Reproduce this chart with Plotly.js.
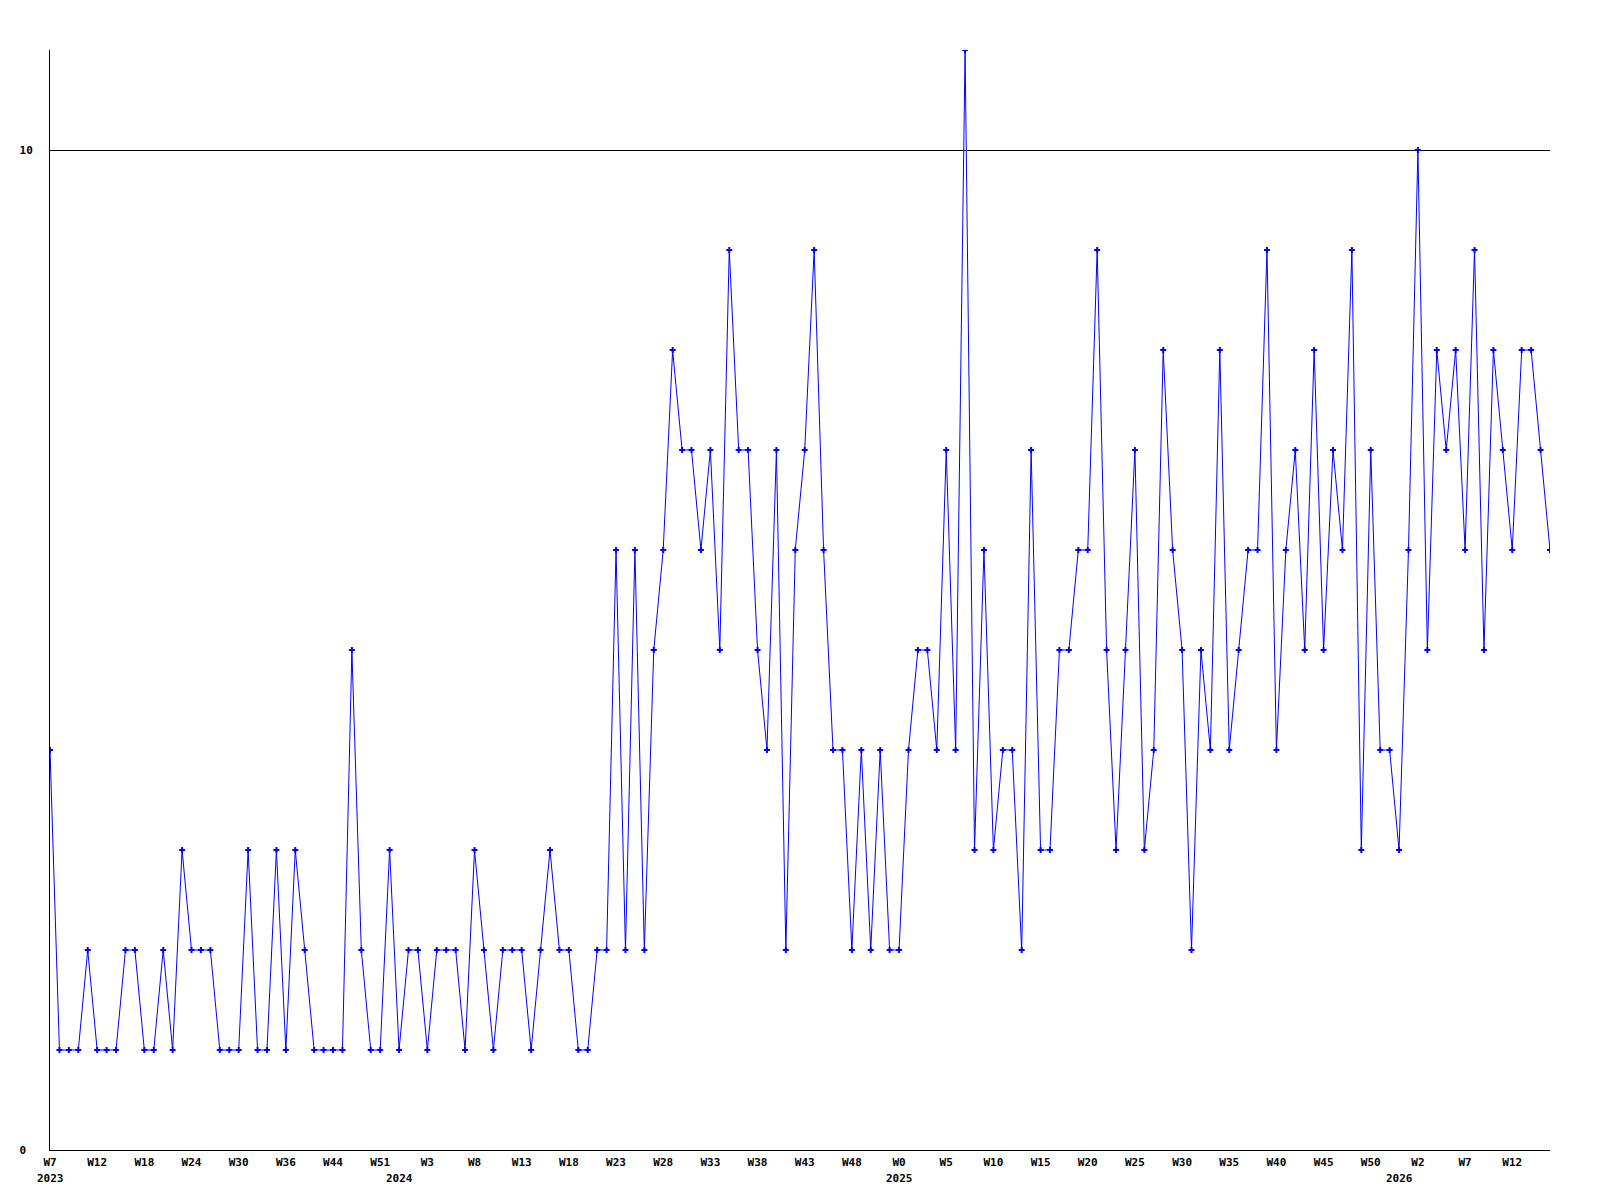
<!DOCTYPE html>
<html>
<head>
<meta charset="utf-8">
<script src="https://cdn.plot.ly/plotly-3.0.1.min.js"></script>
<style>html,body{margin:0;padding:0;background:#fff;}#chart{width:1600px;height:1200px;}</style>
</head>
<body>
<div id="chart"></div>
<script>
// Weekly counts, one per week, starting at W7 2023
const values = [
  4,1,1,1,2,1,1,1,2,2, 1,1,2,1,3,2,2,2,1,1,
  1,3,1,1,3,1,3,2,1,1, 1,1,5,2,1,1,3,1,2,2,
  1,2,2,2,1,3,2,1,2,2, 2,1,2,3,2,2,1,1,2,2,
  6,2,6,2,5,6,8,7,7,6, 7,5,9,7,7,5,4,7,2,6,
  7,9,6,4,4,2,4,2,4,2, 2,4,5,5,4,7,4,11,3,6,
  3,4,4,2,7,3,3,5,5,6, 6,9,5,3,5,7,3,4,8,6,
  5,2,5,4,8,4,5,6,6,9, 4,6,7,5,8,5,7,6,9,3,
  7,4,4,3,6,10,5,8,7,8, 6,9,5,8,7,6,8,8,7,6
];
// Week tick labels (every 5th week)
const weekTicks = ['W7','W12','W18','W24','W30','W36','W44','W51','W3','W8','W13','W18',
  'W23','W28','W33','W38','W43','W48','W0','W5','W10','W15','W20','W25','W30','W35',
  'W40','W45','W50','W2','W7','W12'];
const weekTickStep = 5;
// Year labels and the week index they sit under
const years = ['2023','2024','2025','2026'];
const yearIndex = [0,37,90,143];
// Y axis ticks
const yTickVals = [0,10];
const yTickText = ['0\u00a0','10'];

const xIdx = values.map((_, i) => i);
const tickVals = weekTicks.map((_, i) => i * weekTickStep);

const FONT = {family: 'DejaVu Sans Mono, monospace', size: 11, color: '#000', weight: 'bold'};

const trace = {
  x: xIdx, y: values, type: 'scatter', mode: 'lines+markers',
  line: {color: '#0000ff', width: 1},
  marker: {color: '#0000ff', symbol: 'cross', size: 5},
  hoverinfo: 'x+y'
};

const layout = {
  width: 1600, height: 1200,
  margin: {l: 50, r: 50, t: 50, b: 50, pad: 0},
  paper_bgcolor: '#fff', plot_bgcolor: '#fff',
  showlegend: false,
  font: FONT,
  xaxis: {
    range: [0, values.length - 1], tickmode: 'array', tickvals: tickVals, ticktext: weekTicks,
    showgrid: false, zeroline: false, showline: true, linecolor: '#000', linewidth: 1,
    ticks: '', tickfont: FONT, ticklabelstandoff: 2, fixedrange: true
  },
  yaxis: {
    range: [0, 11], tickmode: 'array', tickvals: yTickVals, ticktext: yTickText,
    showgrid: true, gridcolor: '#000', gridwidth: 1, zeroline: false,
    showline: true, linecolor: '#000', linewidth: 1,
    ticks: '', tickfont: FONT, ticklabelstandoff: 14, fixedrange: true
  },
  annotations: years.map((y, i) => ({
    text: y, x: yearIndex[i], xref: 'x', y: 0, yref: 'paper',
    yanchor: 'top', xanchor: 'center', yshift: -20, showarrow: false, font: FONT
  }))
};

Plotly.newPlot('chart', [trace], layout, {displayModeBar: false, staticPlot: true});
</script>
</body>
</html>
